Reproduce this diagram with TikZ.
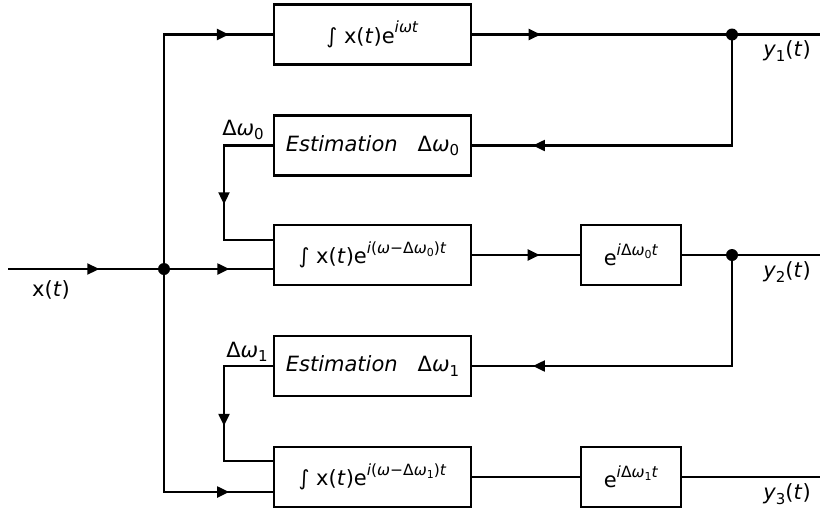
\documentclass[tikz,border=0pt]{standalone}
\usepackage{fontspec}
\setmainfont{DejaVu Sans}
\usetikzlibrary{arrows.meta,decorations.markings}
\newcommand\vi[1]{\textit{#1}}
\newcommand\supr[1]{\raisebox{0.5em}{\fontsize{15.5}{17}\selectfont #1}}
\newcommand\subr[1]{\raisebox{-0.22em}{\fontsize{15}{17}\selectfont #1}}
\newcommand\subsub[1]{\raisebox{-0.2em}{\fontsize{11}{12}\selectfont #1}}
\begin{document}
\begin{tikzpicture}[x=1pt,y=-1pt,line width=2.2pt,
  font=\fontsize{21}{24}\selectfont,
  blk/.style={draw, minimum width=197pt, minimum height=60pt, inner sep=0pt},
  eblk/.style={draw, minimum width=100pt, minimum height=60pt, inner sep=0pt},
  dot/.style={circle, fill, inner sep=0pt, minimum size=12pt},
  tipat/.style={postaction={decorate}, decoration={markings,
     mark=at position #1 with {\arrow{Triangle[length=12pt,width=11pt]}}}}]
\useasboundingbox (0,0) rectangle (820,512);

% blocks
\node[blk] (A) at (372.5,34.5) {∫ x(\vi{t})e\supr{\vi{iωt}}};
\node[blk] (E0) at (372.5,145.5) {\vi{Estimation}\hspace{20pt}Δ\vi{ω}\subr{0}};
\node[blk] (B) at (372.5,255) {∫ x(\vi{t})e\supr{\vi{i}(\vi{ω}−Δ\vi{ω}\subsub{0})\vi{t}}};
\node[eblk] (P0) at (631,255) {e\supr{\vi{i}Δ\vi{ω}\subsub{0}\vi{t}}};
\node[blk] (E1) at (372.5,366) {\vi{Estimation}\hspace{20pt}Δ\vi{ω}\subr{1}};
\node[blk] (C) at (372.5,477) {∫ x(\vi{t})e\supr{\vi{i}(\vi{ω}−Δ\vi{ω}\subsub{1})\vi{t}}};
\node[eblk] (P1) at (631,477) {e\supr{\vi{i}Δ\vi{ω}\subsub{1}\vi{t}}};

% junctions
\node[dot] (s) at (164,269) {};
\node[dot] (d1) at (732,34.5) {};
\node[dot] (d2) at (732,255) {};

% coordinates
\coordinate (in) at (8,269);
\coordinate (tl) at (164,34.5);
\coordinate (bl) at (164,492);
\coordinate (o1) at (820,34.5);
\coordinate (o2) at (820,255);
\coordinate (o3) at (820,477);
\coordinate (f0a) at (224,145.5);
\coordinate (f0b) at (224,240);
\coordinate (f1a) at (224,366);
\coordinate (f1b) at (224,461);

% connectors
\draw[tipat=0.585] (in) -- (s.center);
\draw[tipat=0.872] (s.center) -- (tl) -- (A.west);
\draw[tipat=0.6] (s.center) -- (s.center -| B.west);
\draw[tipat=0.868] (s.center) -- (bl) -- (bl -| C.west);
\draw[tipat=0.264] (A.east) -- (d1.center);
\draw (d1.center) -- (o1);
\draw[tipat=0.836] (d1.center) -- (d1.center |- E0.east) -- (E0.east);
\draw[tipat=0.56] (E0.west) -- (f0a) -- (f0b) -- (f0b -| B.west);
\draw[tipat=0.627] (B.east) -- (P0.west);
\draw (P0.east) -- (d2.center) -- (o2);
\draw[tipat=0.836] (d2.center) -- (d2.center |- E1.east) -- (E1.east);
\draw[tipat=0.564] (E1.west) -- (f1a) -- (f1b) -- (f1b -| C.west);
\draw (C.east) -- (P1.west);
\draw (P1.east) -- (o3);

% labels
\node (lx) at (51,290) {x(\vi{t})};
\node (ld0) at (243,130) {Δ\vi{ω}\subr{0}};
\node (ld1) at (247,352) {Δ\vi{ω}\subr{1}};
\node (ly1) at (787,51) {\vi{y}\subr{1}(\vi{t})};
\node (ly2) at (787,272) {\vi{y}\subr{2}(\vi{t})};
\node (ly3) at (787,494) {\vi{y}\subr{3}(\vi{t})};
\end{tikzpicture}
\end{document}
